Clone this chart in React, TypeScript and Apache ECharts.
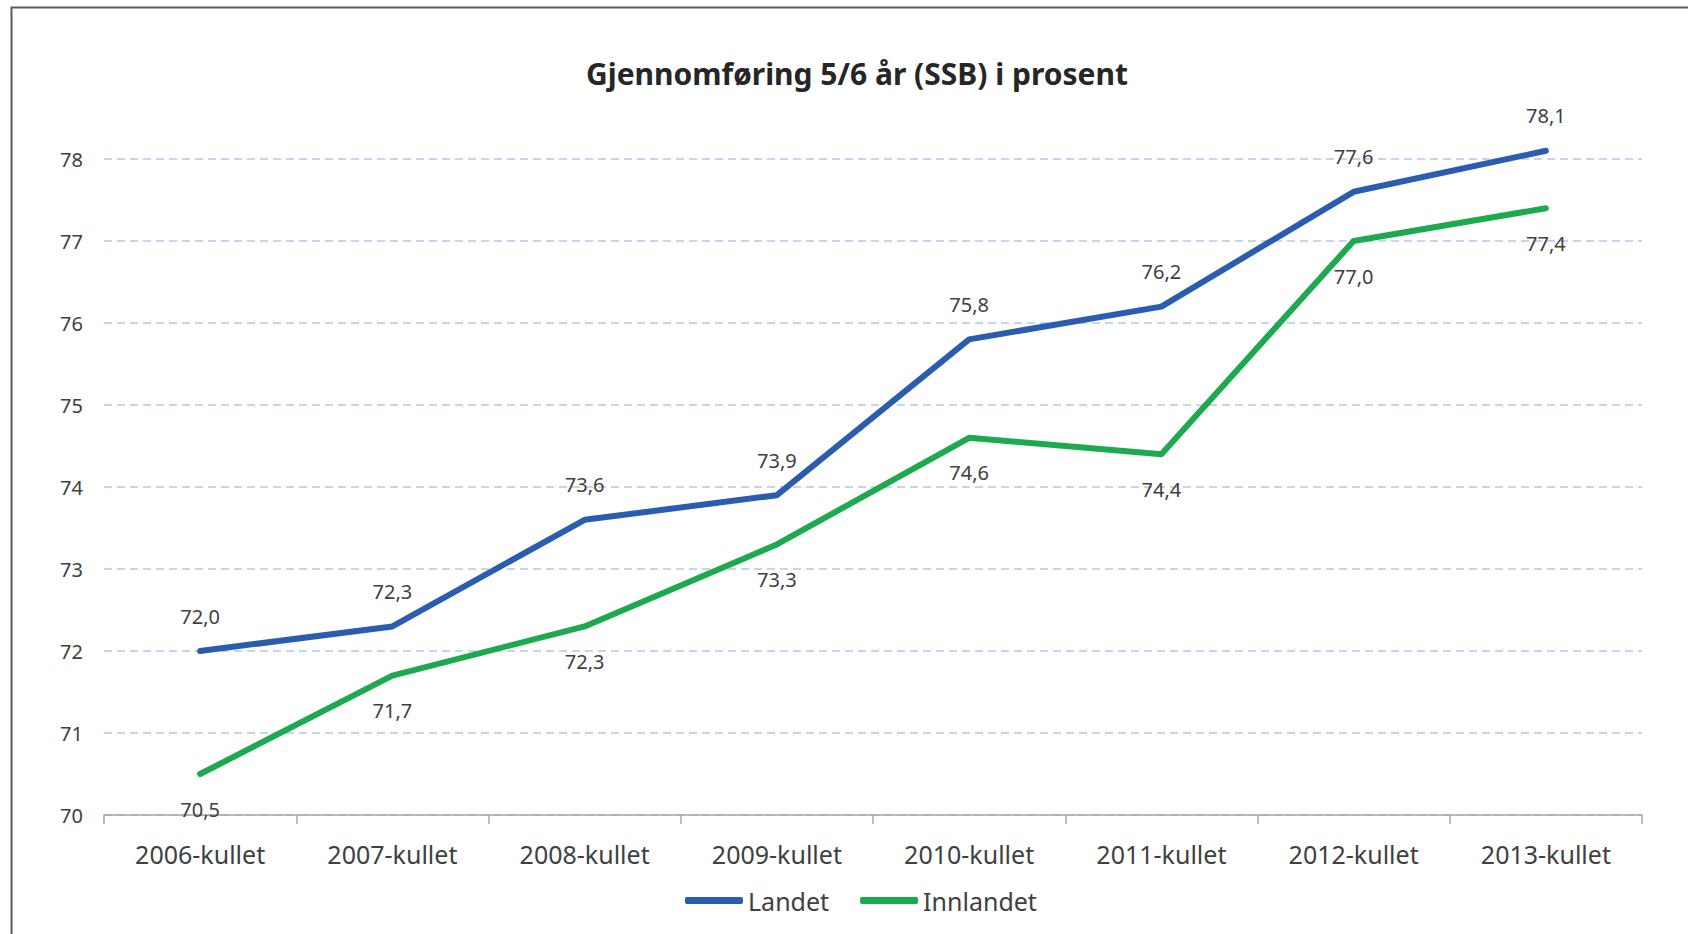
import React, { useEffect, useRef } from "react";
import * as echarts from "echarts";

const categories = [
  "2006-kullet",
  "2007-kullet",
  "2008-kullet",
  "2009-kullet",
  "2010-kullet",
  "2011-kullet",
  "2012-kullet",
  "2013-kullet",
];
const landet = [72.0, 72.3, 73.6, 73.9, 75.8, 76.2, 77.6, 78.1];
const innlandet = [70.5, 71.7, 72.3, 73.3, 74.6, 74.4, 77.0, 77.4];
const titleText = "Gjennomføring 5/6 år (SSB) i prosent";

const FONT = "'Noto Sans', 'DejaVu Sans', sans-serif";
const fmt = (v: number) => v.toFixed(1).replace(".", ",");

export default function App() {
  const ref = useRef<HTMLDivElement>(null);
  useEffect(() => {
    if (!ref.current) return;
    const chart = echarts.init(ref.current, null, { renderer: "svg" });
    chart.setOption({
      animation: false,
      backgroundColor: "#ffffff",
      textStyle: { fontFamily: FONT },
      graphic: [
        {
          type: "rect",
          left: 9,
          top: 5,
          shape: { x: 0, y: 0, width: 1720, height: 960 },
          style: { fill: "none", stroke: "#5a5a5a", lineWidth: 2 },
          silent: true,
        },
        {
          type: "text",
          x: 857,
          y: 73,
          style: {
            text: titleText,
            fontFamily: FONT,
            fontSize: 30,
            fontWeight: "bold",
            fill: "#262626",
            align: "center",
            verticalAlign: "middle",
          },
          silent: true,
        },
      ],
      legend: {
        left: 685,
        top: 888,
        padding: 0,
        itemWidth: 58,
        itemHeight: 7,
        itemGap: 31,
        icon: "roundRect",
        textStyle: { fontFamily: FONT, fontSize: 25, color: "#404040" },
        data: ["Landet", "Innlandet"],
      },
      grid: { left: 104, right: 46, top: 159, bottom: 119, containLabel: false },
      xAxis: {
        type: "category",
        data: categories,
        boundaryGap: true,
        axisLine: { lineStyle: { color: "#a6a6a6", width: 1.5 } },
        axisTick: { show: true, length: 9, interval: 0, lineStyle: { color: "#a6a6a6", width: 1.5 } },
        axisLabel: { margin: 26, fontSize: 25, color: "#404040", fontFamily: FONT, interval: 0 },
        splitLine: { show: false },
      },
      yAxis: {
        type: "value",
        min: 70,
        max: 78,
        interval: 1,
        axisLine: { show: false },
        axisTick: { show: false },
        axisLabel: { margin: 21, fontSize: 20, color: "#404040", fontFamily: FONT },
        splitLine: {
          lineStyle: { color: "#b4c7e7", width: 1.5, type: [8, 5] },
        },
      },
      series: [
        {
          name: "Landet",
          type: "line",
          data: landet,
          symbol: "circle",
          symbolSize: 2,
          showSymbol: true,
          clip: false,
          color: "#2a5db0",
          itemStyle: { color: "#2a5db0" },
          lineStyle: { width: 6, color: "#2a5db0", cap: "round", join: "round" },
          label: {
            show: true,
            position: "top",
            distance: 24,
            fontSize: 20,
            color: "#404040",
            fontFamily: FONT,
            formatter: (p: any) => fmt(p.value),
          },
          z: 3,
        },
        {
          name: "Innlandet",
          type: "line",
          data: innlandet,
          symbol: "circle",
          symbolSize: 2,
          showSymbol: true,
          clip: false,
          color: "#1daa4f",
          itemStyle: { color: "#1daa4f" },
          lineStyle: { width: 6, color: "#1daa4f", cap: "round", join: "round" },
          label: {
            show: true,
            position: "bottom",
            distance: 24,
            fontSize: 20,
            color: "#404040",
            fontFamily: FONT,
            formatter: (p: any) => fmt(p.value),
          },
          z: 2,
        },
      ],
    });
    return () => chart.dispose();
  }, []);
  return (
    <div
      ref={ref}
      style={{ position: "absolute", left: 0, top: 0, width: 1688, height: 934 }}
    />
  );
}
